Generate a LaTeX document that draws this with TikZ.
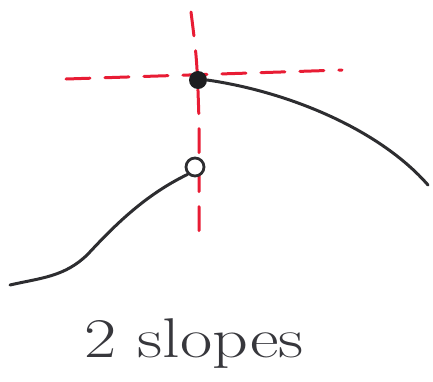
\documentclass[tikz,border=0pt]{standalone}
\begin{document}
\begin{tikzpicture}[x=1pt,y=-1pt,
  guide/.style={draw={rgb,255:red,232;green,28;blue,52}, line width=3pt, dash pattern=on 24pt off 15pt, line cap=round},
  curve/.style={draw={rgb,255:red,45;green,45;blue,48}, line width=3pt, line cap=round, line join=round},
  closedpt/.style={circle, fill={rgb,255:red,30;green,30;blue,32}, inner sep=0pt, minimum size=18pt},
  openpt/.style={circle, draw={rgb,255:red,45;green,45;blue,48}, line width=2.8pt, fill=white, inner sep=0pt, minimum size=18pt},
  lbl/.style={text={rgb,255:red,55;green,55;blue,60}, font=\fontsize{56}{66}\selectfont, xscale=1.25, inner sep=0pt}]
\useasboundingbox (0,0) rectangle (433,381);
% guides
\coordinate (vtop) at (191,12);
\coordinate (vbot) at (199,237);
\coordinate (hl) at (66,79);
\coordinate (hr) at (342,70);
\draw[guide] (vtop) .. controls (197,60) .. (199,120) -- (vbot);
\draw[guide] (hl) -- (hr);
% points
\node[closedpt] (top) at (198,80) {};
\node[openpt] (hole) at (195,167) {};
% curves
\coordinate (rend) at (428,185);
\coordinate (lend) at (10,285);
\coordinate (mid) at (88,254);
\draw[curve] (top.east) .. controls (290,92) and (380,130) .. (rend);
\draw[curve] (hole.south west) .. controls (145,195) and (115,225) .. (mid) .. controls (65,277) and (40,278) .. (lend);
% label
\node[lbl] (label) at (194,344) {2 slopes};
\end{tikzpicture}
\end{document}
